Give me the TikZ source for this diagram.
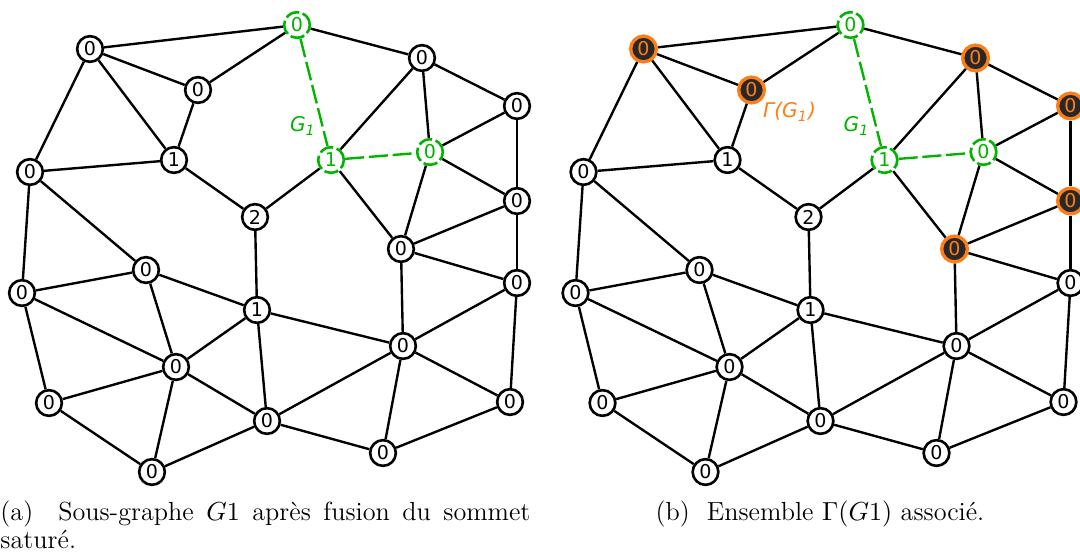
\documentclass[tikz,border=0pt]{standalone}
\usepackage{fontspec}
\newfontfamily\dejavu{DejaVu Sans}[ItalicFont={DejaVu Sans Oblique}]
\definecolor{vert}{RGB}{0,180,0}
\definecolor{orangeG}{RGB}{255,125,20}
\definecolor{sombre}{RGB}{40,40,40}
\newcommand{\sommets}[1]{%
  \foreach \n/\x/\y/\t/\s in {1/90/49/0/#1, 2/297/25/0/sousgraphe, 3/198/90/0/#1,
      4/422/58/0/#1, 5/517/106/0/#1, 6/174/160/1/neutre, 7/331/160/1/sousgraphe,
      8/430/152/0/sousgraphe, 9/30/172/0/neutre, 10/255/217/2/neutre,
      11/517/201/0/#1, 12/401/249/0/#1, 13/146/270/0/neutre, 14/22/293/0/neutre,
      15/517/283/0/neutre, 16/257/310/1/neutre, 17/403/346/0/neutre,
      18/176/367/0/neutre, 19/49/403/0/neutre, 20/510/402/0/neutre,
      21/267/421/0/neutre, 22/383/453/0/neutre, 23/152/472/0/neutre}
    \node[sommet,\s] (n\n) at (\x,\y) {\t};
}
\newcommand{\aretes}{%
  \foreach \u/\v in {1/2,1/3,1/6,1/9,3/2,3/6,9/6,6/10,9/14,9/13,10/16,10/7,
      2/4,7/4,4/8,4/5,8/5,8/11,5/11,7/12,8/12,12/11,11/15,14/13,13/16,13/18,
      14/18,14/19,19/18,19/23,18/16,18/21,18/23,16/21,23/21,12/15,12/17,16/17,
      17/15,17/21,17/22,17/20,15/20,21/22,22/20}
    \draw[arete] (n\u) -- (n\v);
  \draw[areteG] (n2) -- (n7);
  \draw[areteG] (n7) -- (n8);
}
\begin{document}
\begin{tikzpicture}[x=0.42pt,y=-0.42pt,
  sommet/.style={circle,draw,fill=white,line width=1.1pt,minimum size=10.8pt,
    inner sep=0pt,font=\dejavu\fontsize{8}{9}\selectfont},
  neutre/.style={},
  sousgraphe/.style={draw=vert,text=vert,dash pattern=on 6pt off 1.5pt},
  voisin/.style={draw=orangeG,fill=sombre,text=orangeG,line width=1.4pt},
  arete/.style={line width=1pt},
  areteG/.style={arete,draw=vert,dash pattern=on 8pt off 2pt},
  etiq/.style={inner sep=0pt,font=\dejavu\itshape\fontsize{8.5}{10}\selectfont},
  legende/.style={inner sep=0pt,font=\fontsize{11}{12}\selectfont}]
\useasboundingbox (0,0) rectangle (1080,553);
\begin{scope}[name prefix=a-]
\sommets{neutre}
\aretes
\node[etiq,text=vert] (g1) at (303,126) {G\textsubscript{1}};
\end{scope}
\begin{scope}[name prefix=b-,shift={(553.5,0)}]
\sommets{voisin}
\aretes
\node[etiq,text=vert] (g1) at (303,126) {G\textsubscript{1}};
\node[etiq,text=orangeG] (gamma) at (236,112) {Γ(G\textsubscript{1})};
\end{scope}
\node[legende,text width=222.6pt,align=justify,anchor=north west] (capa) at (0,500)
  {(a)~ Sous-graphe $G1$ après fusion du sommet saturé.};
\node[legende,anchor=base] (capb) at (820,520) {(b)~ Ensemble $\Gamma(G1)$ associé.};
\end{tikzpicture}
\end{document}
